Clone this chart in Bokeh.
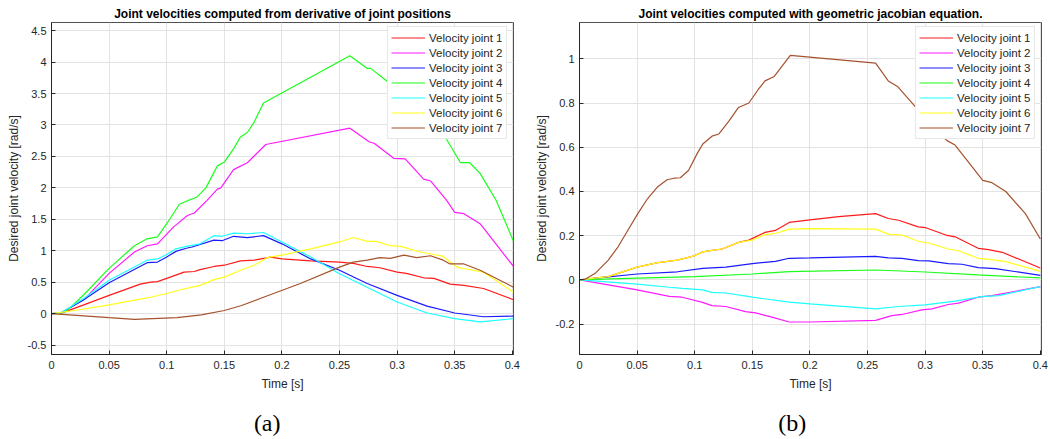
from bokeh.plotting import figure
from bokeh.layouts import row, column
from bokeh.models import (Range1d, FixedTicker, Legend, LegendItem)
from bokeh.core.properties import value
from bokeh.embed import file_html
from bokeh.resources import INLINE

# ---------------- texts ----------------
a_title = "Joint velocities computed from derivative of joint positions"
b_title = "Joint velocities computed with geometric jacobian equation."
captions = ["(a)", "(b)"]
series_names = ["Velocity joint 1", "Velocity joint 2", "Velocity joint 3", "Velocity joint 4",
                "Velocity joint 5", "Velocity joint 6", "Velocity joint 7"]
colors = ["#FF1A1A", "#FF1AFF", "#1A1AFF", "#1AFF1A", "#1AFFFF", "#FFFF1A", "#A5522D"]

# ---------------- data: panel (a) ----------------
a_t1 = [0, 0.008, 0.028, 0.05, 0.077, 0.086, 0.092, 0.1, 0.115, 0.124, 0.129, 0.141, 0.15, 0.164, 0.176, 0.19, 0.2, 0.225, 0.25, 0.262, 0.274, 0.285, 0.3, 0.308, 0.323, 0.332, 0.346, 0.358, 0.375, 0.401]
a_v1 = [0, 0.005, 0.14, 0.29, 0.47, 0.5, 0.51, 0.56, 0.66, 0.67, 0.7, 0.75, 0.77, 0.84, 0.85, 0.9, 0.87, 0.84, 0.82, 0.8, 0.75, 0.73, 0.66, 0.64, 0.57, 0.56, 0.47, 0.45, 0.4, 0.22]

a_t2 = [0, 0.008, 0.028, 0.05, 0.072, 0.083, 0.092, 0.106, 0.118, 0.124, 0.135, 0.144, 0.147, 0.158, 0.17, 0.186, 0.259, 0.276, 0.28, 0.297, 0.307, 0.323, 0.329, 0.343, 0.35, 0.358, 0.372, 0.401]
a_v2 = [0, 0.01, 0.22, 0.64, 0.98, 1.08, 1.11, 1.38, 1.56, 1.6, 1.8, 1.98, 2.0, 2.29, 2.4, 2.69, 2.95, 2.73, 2.71, 2.47, 2.46, 2.14, 2.11, 1.8, 1.61, 1.59, 1.43, 0.75]

a_t3 = [0, 0.008, 0.028, 0.05, 0.083, 0.092, 0.1, 0.108, 0.117, 0.122, 0.141, 0.148, 0.158, 0.17, 0.184, 0.2, 0.225, 0.25, 0.259, 0.274, 0.3, 0.326, 0.35, 0.375, 0.401]
a_v3 = [0, 0.01, 0.22, 0.49, 0.81, 0.82, 0.9, 0.99, 1.04, 1.06, 1.17, 1.16, 1.23, 1.21, 1.24, 1.11, 0.87, 0.69, 0.61, 0.48, 0.29, 0.12, 0.01, -0.05, -0.04]

a_t4 = [0, 0.008, 0.013, 0.028, 0.05, 0.072, 0.083, 0.092, 0.1, 0.111, 0.12, 0.126, 0.134, 0.144, 0.15, 0.158, 0.164, 0.17, 0.176, 0.184, 0.259, 0.274, 0.277, 0.291, 0.31, 0.325, 0.34, 0.355, 0.363, 0.372, 0.386, 0.401]
a_v4 = [0, 0.01, 0.04, 0.3, 0.72, 1.08, 1.19, 1.22, 1.43, 1.74, 1.81, 1.85, 2.0, 2.35, 2.41, 2.62, 2.81, 2.88, 3.05, 3.35, 4.1, 3.9, 3.9, 3.7, 3.45, 3.15, 2.86, 2.4, 2.4, 2.23, 1.8, 1.15]

a_t5 = [0, 0.008, 0.028, 0.05, 0.083, 0.092, 0.1, 0.108, 0.117, 0.129, 0.141, 0.148, 0.158, 0.17, 0.184, 0.2, 0.225, 0.25, 0.274, 0.3, 0.326, 0.35, 0.372, 0.401]
a_v5 = [0, 0.01, 0.24, 0.53, 0.85, 0.87, 0.94, 1.03, 1.07, 1.11, 1.24, 1.23, 1.28, 1.27, 1.29, 1.14, 0.9, 0.635, 0.42, 0.185, 0.01, -0.08, -0.13, -0.08]

a_t6 = [0, 0.02, 0.05, 0.077, 0.086, 0.1, 0.112, 0.129, 0.141, 0.15, 0.164, 0.176, 0.187, 0.2, 0.225, 0.25, 0.262, 0.274, 0.282, 0.294, 0.303, 0.32, 0.332, 0.34, 0.352, 0.36, 0.375, 0.401]
a_v6 = [0, 0.05, 0.14, 0.23, 0.26, 0.32, 0.38, 0.45, 0.54, 0.58, 0.69, 0.77, 0.89, 0.93, 1.03, 1.14, 1.21, 1.15, 1.15, 1.08, 1.07, 0.98, 0.94, 0.91, 0.74, 0.71, 0.66, 0.34]

a_t7 = [0, 0.05, 0.072, 0.109, 0.13, 0.15, 0.165, 0.184, 0.216, 0.25, 0.262, 0.274, 0.285, 0.294, 0.306, 0.317, 0.329, 0.34, 0.346, 0.358, 0.372, 0.401]
a_v7 = [0, -0.065, -0.09, -0.065, -0.02, 0.05, 0.13, 0.26, 0.48, 0.74, 0.82, 0.85, 0.89, 0.88, 0.93, 0.89, 0.92, 0.85, 0.79, 0.79, 0.69, 0.42]

# ---------------- data: panel (b) ----------------
b_t1 = [0, 0.025, 0.05, 0.068, 0.085, 0.099, 0.107, 0.115, 0.124, 0.138, 0.147, 0.161, 0.17, 0.182, 0.2, 0.225, 0.257, 0.268, 0.277, 0.294, 0.3, 0.318, 0.326, 0.346, 0.355, 0.367, 0.4]
b_v1 = [0, 0.015, 0.058, 0.078, 0.09, 0.108, 0.127, 0.134, 0.14, 0.17, 0.18, 0.215, 0.224, 0.26, 0.272, 0.286, 0.30, 0.278, 0.27, 0.24, 0.237, 0.203, 0.195, 0.143, 0.137, 0.125, 0.054]

b_t2 = [0, 0.05, 0.078, 0.089, 0.106, 0.115, 0.127, 0.144, 0.153, 0.167, 0.182, 0.2, 0.257, 0.271, 0.28, 0.297, 0.306, 0.32, 0.329, 0.346, 0.358, 0.4]
b_v2 = [0, -0.045, -0.074, -0.078, -0.1, -0.116, -0.12, -0.143, -0.149, -0.168, -0.19, -0.19, -0.183, -0.161, -0.156, -0.135, -0.131, -0.111, -0.105, -0.078, -0.071, -0.03]

b_t3 = [0, 0.05, 0.085, 0.107, 0.115, 0.127, 0.15, 0.17, 0.182, 0.2, 0.257, 0.268, 0.28, 0.294, 0.303, 0.32, 0.332, 0.346, 0.361, 0.4]
b_v3 = [0, 0.027, 0.037, 0.052, 0.055, 0.058, 0.074, 0.084, 0.098, 0.1, 0.107, 0.1, 0.098, 0.087, 0.086, 0.074, 0.071, 0.056, 0.051, 0.021]

b_t4 = [0, 0.05, 0.1, 0.15, 0.182, 0.257, 0.3, 0.346, 0.4]
b_v4 = [0, 0.008, 0.015, 0.027, 0.038, 0.045, 0.036, 0.023, 0.009]

b_t5 = [0, 0.05, 0.078, 0.089, 0.107, 0.115, 0.127, 0.15, 0.182, 0.2, 0.257, 0.277, 0.3, 0.326, 0.349, 0.364, 0.4]
b_v5 = [0, -0.019, -0.033, -0.038, -0.045, -0.056, -0.059, -0.078, -0.1, -0.108, -0.131, -0.12, -0.113, -0.096, -0.075, -0.071, -0.03]

b_t6 = [0, 0.025, 0.05, 0.068, 0.085, 0.099, 0.107, 0.115, 0.124, 0.138, 0.15, 0.161, 0.17, 0.182, 0.2, 0.257, 0.268, 0.28, 0.294, 0.303, 0.32, 0.329, 0.346, 0.358, 0.37, 0.4]
b_v6 = [0, 0.015, 0.058, 0.078, 0.09, 0.108, 0.127, 0.134, 0.14, 0.17, 0.18, 0.205, 0.21, 0.23, 0.232, 0.23, 0.207, 0.203, 0.175, 0.167, 0.14, 0.132, 0.098, 0.092, 0.083, 0.039]

b_t7 = [0, 0.005, 0.0136, 0.025, 0.0335, 0.042, 0.0506, 0.059, 0.0676, 0.076, 0.082, 0.0875, 0.0946, 0.102, 0.107, 0.115, 0.121, 0.13, 0.138, 0.147, 0.155, 0.161, 0.169, 0.183, 0.257, 0.268, 0.276, 0.292, 0.305, 0.319, 0.326, 0.341, 0.35, 0.358, 0.37, 0.387, 0.4]
b_v7 = [0, 0.003, 0.03, 0.09, 0.15, 0.225, 0.30, 0.367, 0.42, 0.453, 0.46, 0.462, 0.495, 0.57, 0.615, 0.65, 0.66, 0.72, 0.78, 0.80, 0.86, 0.90, 0.92, 1.015, 0.98, 0.9, 0.875, 0.78, 0.70, 0.63, 0.61, 0.51, 0.45, 0.44, 0.4, 0.3, 0.185]

x_ticks = [0, 0.05, 0.1, 0.15, 0.2, 0.25, 0.3, 0.35, 0.4]
x_tick_labels = ["0", "0.05", "0.1", "0.15", "0.2", "0.25", "0.3", "0.35", "0.4"]
a_y_ticks = [-0.5, 0, 0.5, 1, 1.5, 2, 2.5, 3, 3.5, 4, 4.5]
a_y_tick_labels = ["-0.5", "0", "0.5", "1", "1.5", "2", "2.5", "3", "3.5", "4", "4.5"]
b_y_ticks = [-0.2, 0, 0.2, 0.4, 0.6, 0.8, 1]
b_y_tick_labels = ["-0.2", "0", "0.2", "0.4", "0.6", "0.8", "1"]

FONT = "Liberation Sans"
AX = "#262626"


def make_panel(title, ts, vs, yr, yticks, ylabels, left_border, right_border):
    p = figure(width=525, height=394, output_backend="svg", toolbar_location=None,
               x_range=Range1d(0, 0.401), y_range=Range1d(*yr),
               min_border_left=left_border, min_border_right=right_border,
               min_border_top=22, min_border_bottom=40,
               x_axis_label="Time [s]", y_axis_label="Desired joint velocity [rad/s]")
    p.title.text = title
    p.title.text_font = FONT
    p.title.text_font_size = "12px"
    p.title.text_font_style = "bold"
    p.title.text_color = "#000000"
    p.title.align = "center"
    p.title.standoff = 3
    p.outline_line_color = AX
    p.outline_line_width = 1
    p.outline_line_alpha = 0.8

    xt = FixedTicker(ticks=x_ticks)
    yt = FixedTicker(ticks=yticks)
    xo = {float(k): s for k, s in zip(x_ticks, x_tick_labels)}
    yo = {float(k): s for k, s in zip(yticks, ylabels)}

    for ax, tk, ov in ((p.xaxis[0], xt, xo), (p.yaxis[0], yt, yo)):
        ax.ticker = tk
        ax.major_label_overrides = ov
        ax.major_tick_in = 4
        ax.major_tick_out = 0
        ax.minor_tick_in = 0
        ax.minor_tick_out = 0
        ax.axis_line_color = AX
        ax.major_tick_line_color = AX
        ax.major_label_text_font = FONT
        ax.major_label_text_font_size = "11px"
        ax.major_label_text_color = AX
        ax.axis_label_text_font = FONT
        ax.axis_label_text_font_size = "12px"
        ax.axis_label_text_font_style = "normal"
        ax.axis_label_text_color = AX
    p.xaxis[0].major_label_standoff = 6
    p.xaxis[0].axis_label_standoff = 5
    p.yaxis[0].major_label_standoff = 5
    p.yaxis[0].axis_label_standoff = 4

    p.xgrid.ticker = xt
    p.ygrid.ticker = yt
    p.xgrid.grid_line_color = "#e3e3e3"
    p.ygrid.grid_line_color = "#e3e3e3"

    items = []
    for t, v, c, n in zip(ts, vs, colors, series_names):
        r = p.line(t, v, line_color=c, line_width=1.2)
        items.append(LegendItem(label=n, renderers=[r]))
    leg = Legend(items=items, location=(336, 215), label_text_font=FONT,
                 label_text_font_size="11.5px", label_text_color=AX,
                 glyph_width=34, glyph_height=15, label_height=15, label_standoff=4,
                 spacing=0, padding=3, margin=0,
                 border_line_color="#d0d0d0", background_fill_color="white",
                 background_fill_alpha=1.0)
    p.add_layout(leg, "center")
    return p


def make_caption(text):
    c = figure(width=525, height=45, output_backend="svg", toolbar_location=None,
               x_range=Range1d(0, 1), y_range=Range1d(0, 1),
               x_axis_type=None, y_axis_type=None,
               min_border=0, min_border_left=0, min_border_right=0,
               min_border_top=0, min_border_bottom=0)
    c.grid.visible = False
    c.outline_line_color = None
    c.text(x=[0.508], y=[0.36], text=[text], text_font=value("Liberation Serif"),
           text_font_size="24px", text_align="center", text_baseline="middle",
           text_color="#000000")
    return c


pa = make_panel(a_title, [a_t1, a_t2, a_t3, a_t4, a_t5, a_t6, a_t7],
                [a_v1, a_v2, a_v3, a_v4, a_v5, a_v6, a_v7], (-0.65, 4.63),
                a_y_ticks, a_y_tick_labels, 51, 12)
pb = make_panel(b_title, [b_t1, b_t2, b_t3, b_t4, b_t5, b_t6, b_t7],
                [b_v1, b_v2, b_v3, b_v4, b_v5, b_v6, b_v7], (-0.337, 1.164),
                b_y_ticks, b_y_tick_labels, 54, 9)
ca = make_caption(captions[0])
cb = make_caption(captions[1])

layout = column(row(pa, pb), row(ca, cb))
open("out.html", "w").write(file_html(layout, INLINE))
